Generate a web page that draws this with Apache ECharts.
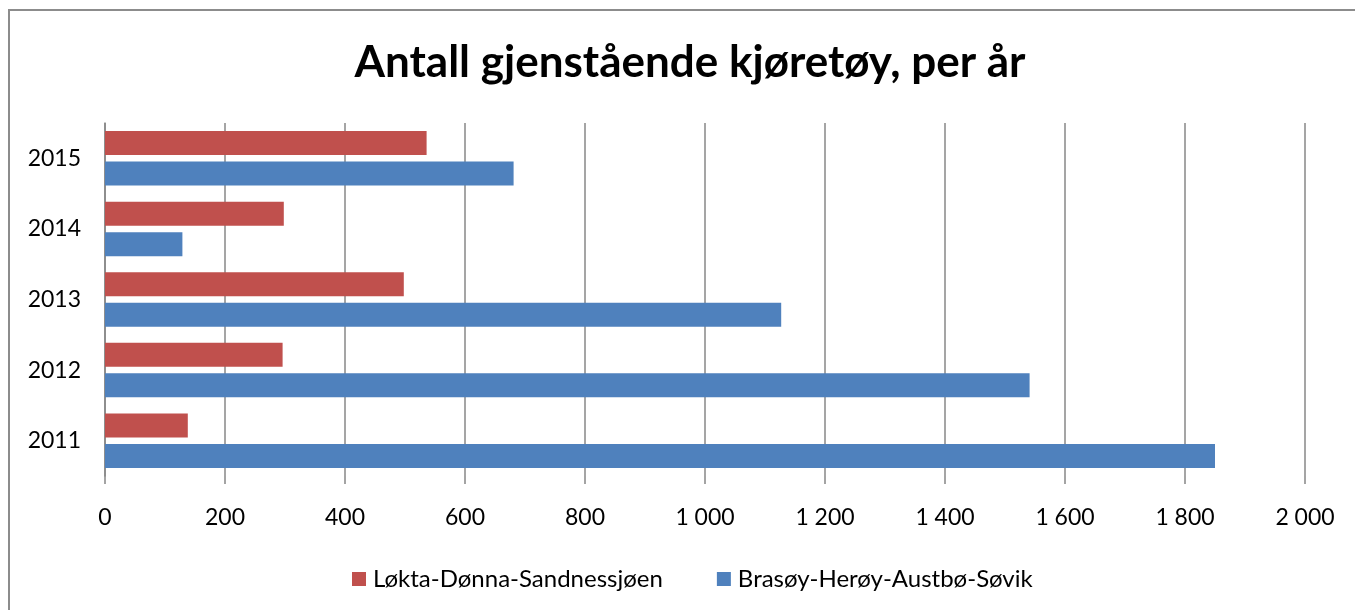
<!DOCTYPE html>
<html>
<head>
<meta charset="utf-8">
<script src="https://cdn.jsdelivr.net/npm/echarts@6/dist/echarts.min.js"></script>
<style>
  html, body { margin: 0; padding: 0; background: #fff; }
  #chart { width: 1355px; height: 610px; }
</style>
</head>
<body>
<div id="chart"></div>
<script>
const titleText = 'Antall gjenstående kjøretøy, per år';
const years = ['2011', '2012', '2013', '2014', '2015'];
const seriesRedName = 'Løkta-Dønna-Sandnessjøen';
const seriesBlueName = 'Brasøy-Herøy-Austbø-Søvik';
const redValues = [138, 296, 498, 298, 536];
const blueValues = [1850, 1541, 1127, 129, 681];
const axisMin = 0;
const axisMax = 2000;
const axisStep = 200;

const FONT = 'Lato, "Open Sans", sans-serif';
const GRID = '#878787';

const chart = echarts.init(document.getElementById('chart'), null, { renderer: 'canvas' });

chart.setOption({
  backgroundColor: '#ffffff',
  animation: false,
  title: {
    text: titleText,
    left: 685,
    textAlign: 'center',
    top: 36,
    textStyle: { fontFamily: FONT, fontWeight: 'bold', fontSize: 44, color: '#000' }
  },
  graphic: [{
    type: 'rect',
    shape: { x: 9, y: 10, width: 1400, height: 700 },
    style: { fill: 'none', stroke: '#8c8c8c', lineWidth: 2 },
    silent: true
  }],
  legend: {
    data: [seriesRedName, seriesBlueName],
    left: 347,
    top: 562,
    icon: 'rect',
    itemWidth: 14,
    itemHeight: 14,
    itemGap: 54,
    textStyle: { fontFamily: FONT, fontSize: 24, color: '#000', padding: [0, 0, 0, 2] }
  },
  grid: { left: 105, right: 50, top: 123, bottom: 134, containLabel: false },
  xAxis: {
    type: 'value',
    min: axisMin,
    max: axisMax,
    interval: axisStep,
    axisLine: { show: false },
    axisTick: { show: true, length: 8, lineStyle: { color: GRID, width: 1.5 } },
    splitLine: { show: true, lineStyle: { color: GRID, width: 1.5 } },
    axisLabel: {
      margin: 30,
      fontFamily: FONT,
      fontSize: 23,
      color: '#000',
      formatter: v => String(v).replace(/\B(?=(\d{3})+(?!\d))/g, ' ')
    }
  },
  yAxis: {
    type: 'category',
    data: years,
    axisLine: { show: true, lineStyle: { color: GRID, width: 1.5 } },
    axisTick: { show: false },
    axisLabel: { margin: 24, fontFamily: FONT, fontSize: 23, color: '#000' }
  },
  series: [
    {
      name: seriesRedName,
      type: 'bar',
      data: redValues,
      barWidth: 24,
      barGap: '27%',
      itemStyle: { color: '#C0504D' }
    },
    {
      name: seriesBlueName,
      type: 'bar',
      data: blueValues,
      barWidth: 24,
      barGap: '27%',
      itemStyle: { color: '#4F81BD' }
    }
  ]
});
</script>
</body>
</html>
